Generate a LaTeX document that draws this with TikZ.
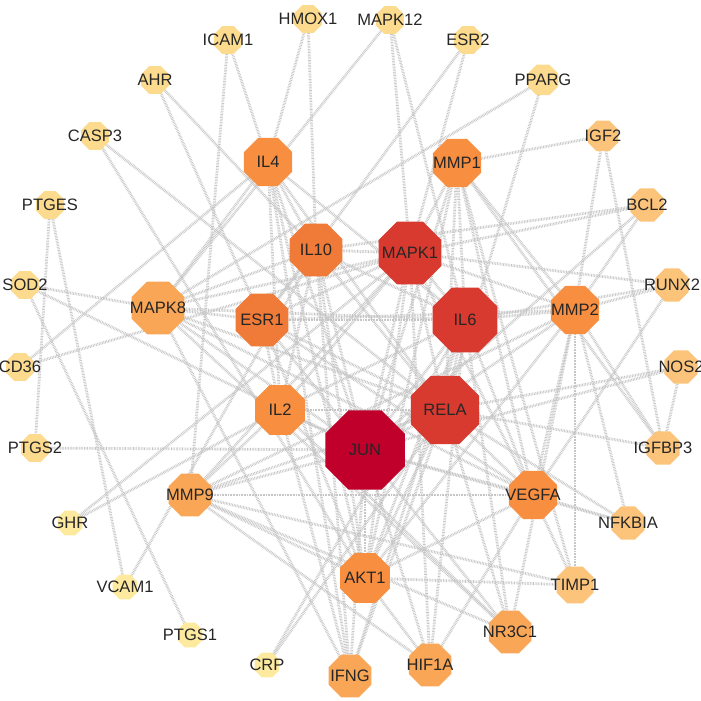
\documentclass[tikz,border=0pt]{standalone}
\usepackage{fontspec}
\setmainfont{Liberation Sans}
\usetikzlibrary{shapes.geometric,backgrounds}
\definecolor{deg-1}{HTML}{C0002A}
\definecolor{deg-2}{HTML}{D83A30}
\definecolor{deg-3}{HTML}{F07A38}
\definecolor{deg-4}{HTML}{F78E40}
\definecolor{deg-5}{HTML}{F9A656}
\definecolor{deg-6}{HTML}{FCC47A}
\definecolor{deg-7}{HTML}{FDDB8E}
\definecolor{deg-8}{HTML}{FEEA9F}
\tikzset{
  gene/.style={regular polygon, regular polygon sides=8,
    inner sep=0pt, label={[font=\fontsize{4.7}{5}\selectfont, text=black!85]center:#1}},
  link/.style={draw=gray!45, line width=0.8pt, dash pattern=on 0.2pt off 0.25pt}
}
\begin{document}
\begin{tikzpicture}[x=0.01cm, y=-0.01cm]
		\useasboundingbox (0,0) rectangle (700,701);
		% Draw the hub genes
		\node (JUN) [gene=JUN, fill=deg-1, minimum size=0.86cm] at (365,450) {};
		\node (RELA) [gene=RELA, fill=deg-2, minimum size=0.74cm] at (445,410) {};
		\node (IL6) [gene=IL6, fill=deg-2, minimum size=0.70cm] at (465,320) {};
		\node (MAPK1) [gene=MAPK1, fill=deg-2, minimum size=0.68cm] at (410,253) {};
		\node (IL10) [gene=IL10, fill=deg-3, minimum size=0.57cm] at (316,250) {};
		\node (ESR1) [gene=ESR1, fill=deg-3, minimum size=0.57cm] at (262,320) {};
		
		% Draw the second ring
		\node (IL4) [gene=IL4, fill=deg-4, minimum size=0.52cm] at (268,162) {};
		\node (MMP1) [gene=MMP1, fill=deg-4, minimum size=0.52cm] at (457,163) {};
		\node (MMP2) [gene=MMP2, fill=deg-4, minimum size=0.52cm] at (575,310) {};
		\node (IL2) [gene=IL2, fill=deg-4, minimum size=0.54cm] at (280,410) {};
		\node (VEGFA) [gene=VEGFA, fill=deg-4, minimum size=0.52cm] at (533,495) {};
		\node (AKT1) [gene=AKT1, fill=deg-4, minimum size=0.54cm] at (365,578) {};
		\node (MAPK8) [gene=MAPK8, fill=deg-5, minimum size=0.57cm] at (158,308) {};
		\node (MMP9) [gene=MMP9, fill=deg-5, minimum size=0.46cm] at (190,495) {};
		\node (NR3C1) [gene=NR3C1, fill=deg-5, minimum size=0.46cm] at (510,632) {};
		\node (HIF1A) [gene=HIF1A, fill=deg-5, minimum size=0.46cm] at (430,665) {};
		\node (IFNG) [gene=IFNG, fill=deg-5, minimum size=0.46cm] at (350,676) {};
		
		% Draw the outer ring
		\node (TIMP1) [gene=TIMP1, fill=deg-6, minimum size=0.40cm] at (575,585) {};
		\node (NFKBIA) [gene=NFKBIA, fill=deg-6, minimum size=0.36cm] at (628,523) {};
		\node (IGFBP3) [gene=IGFBP3, fill=deg-6, minimum size=0.36cm] at (663,448) {};
		\node (NOS2) [gene=NOS2, fill=deg-6, minimum size=0.36cm] at (681,367) {};
		\node (RUNX2) [gene=RUNX2, fill=deg-6, minimum size=0.36cm] at (672,285) {};
		\node (BCL2) [gene=BCL2, fill=deg-6, minimum size=0.36cm] at (647,205) {};
		\node (IGF2) [gene=IGF2, fill=deg-6, minimum size=0.33cm] at (603,136) {};
		\node (PPARG) [gene=PPARG, fill=deg-7, minimum size=0.33cm] at (543,80) {};
		\node (ESR2) [gene=ESR2, fill=deg-7, minimum size=0.30cm] at (468,40) {};
		\node (MAPK12) [gene=MAPK12, fill=deg-7, minimum size=0.30cm] at (390,20) {};
		\node (HMOX1) [gene=HMOX1, fill=deg-7, minimum size=0.30cm] at (308,19) {};
		\node (ICAM1) [gene=ICAM1, fill=deg-7, minimum size=0.30cm] at (228,40) {};
		\node (AHR) [gene=AHR, fill=deg-7, minimum size=0.30cm] at (155,80) {};
		\node (CASP3) [gene=CASP3, fill=deg-7, minimum size=0.30cm] at (95,136) {};
		\node (PTGES) [gene=PTGES, fill=deg-7, minimum size=0.30cm] at (50,205) {};
		\node (SOD2) [gene=SOD2, fill=deg-7, minimum size=0.30cm] at (25,285) {};
		\node (CD36) [gene=CD36, fill=deg-7, minimum size=0.30cm] at (20,367) {};
		\node (PTGS2) [gene=PTGS2, fill=deg-7, minimum size=0.30cm] at (35,448) {};
		\node (GHR) [gene=GHR, fill=deg-8, minimum size=0.27cm] at (70,523) {};
		\node (VCAM1) [gene=VCAM1, fill=deg-8, minimum size=0.27cm] at (125,587) {};
		\node (PTGS1) [gene=PTGS1, fill=deg-8, minimum size=0.27cm] at (190,635) {};
		\node (CRP) [gene=CRP, fill=deg-8, minimum size=0.27cm] at (267,665) {};
		
		% Connect the genes
		\begin{pgfonlayer}{background}
		\foreach \a/\b in {HMOX1/IL4, HMOX1/IL10, ICAM1/IL4, ICAM1/MMP9, AHR/ESR1, AHR/IL10,
			CASP3/RELA, CASP3/AKT1, PTGES/PTGS2, PTGES/VCAM1, SOD2/MAPK8, SOD2/JUN, SOD2/PTGS1,
			CD36/MAPK1, CD36/IL4, MAPK12/MAPK1, MAPK12/IL6, MAPK12/MAPK8, ESR2/MAPK1, ESR2/ESR1,
			PPARG/MAPK8, PPARG/RELA, IGF2/MMP1, IGF2/MMP2, IGF2/IGFBP3, BCL2/MAPK1, BCL2/MMP2,
			BCL2/JUN, BCL2/IL10, RUNX2/MAPK1, RUNX2/MMP2, RUNX2/VEGFA, RUNX2/IL6, NOS2/RELA,
			NOS2/JUN, NOS2/IGFBP3, IGFBP3/MMP2, IGFBP3/RELA, IGFBP3/MMP1, NFKBIA/RELA,
			NFKBIA/VEGFA, NFKBIA/MMP2, NFKBIA/JUN, TIMP1/MMP1, TIMP1/MMP2, TIMP1/VEGFA,
			TIMP1/MMP9, TIMP1/AKT1, NR3C1/JUN, NR3C1/RELA, NR3C1/IL6, NR3C1/MMP2, NR3C1/MAPK8,
			NR3C1/IL2, HIF1A/AKT1, HIF1A/JUN, HIF1A/VEGFA, HIF1A/IL6, HIF1A/MAPK1, HIF1A/MMP9,
			IFNG/IL4, IFNG/IL10, IFNG/IL2, IFNG/JUN, IFNG/RELA, IFNG/IL6, IFNG/MAPK8, CRP/IL6,
			CRP/RELA, VCAM1/IL10, GHR/MAPK1, GHR/IL2, PTGS2/JUN, MMP9/JUN, MMP9/RELA, MMP9/VEGFA,
			MMP9/IL2, MMP9/MAPK1, MMP9/NR3C1, JUN/RELA, JUN/IL6, JUN/MAPK1, JUN/IL10, JUN/ESR1,
			JUN/IL4, JUN/IL2, JUN/AKT1, JUN/MAPK8, JUN/VEGFA, JUN/MMP1, JUN/MMP2, RELA/IL6,
			RELA/MAPK1, RELA/IL10, RELA/ESR1, RELA/IL2, RELA/AKT1, RELA/MAPK8, RELA/VEGFA,
			RELA/IL4, RELA/MMP1, IL6/MAPK1, IL6/IL10, IL6/IL4, IL6/MMP2, IL6/VEGFA, IL6/AKT1,
			IL6/ESR1, IL6/MAPK8, IL6/IL2, IL6/MMP1, MAPK1/MAPK8, MAPK1/ESR1, MAPK1/IL2,
			MAPK1/MMP1, MAPK1/MMP2, MAPK1/AKT1, MAPK1/VEGFA, MAPK1/IL10, IL10/IL4, IL10/IL2,
			IL10/ESR1, IL10/MAPK8, IL10/AKT1, ESR1/MAPK8, ESR1/AKT1, ESR1/IL2, ESR1/VEGFA,
			ESR1/MMP2, IL4/IL2, IL4/AKT1, IL4/MAPK8, AKT1/VEGFA, AKT1/MMP9, AKT1/MMP1, AKT1/MMP2,
			VEGFA/MMP2, VEGFA/MMP1, VEGFA/MAPK8, MMP1/MMP2, MMP2/MMP9}
			\draw[link] (\a.center) -- (\b.center);
		\end{pgfonlayer}
		\end{tikzpicture}
\end{document}
